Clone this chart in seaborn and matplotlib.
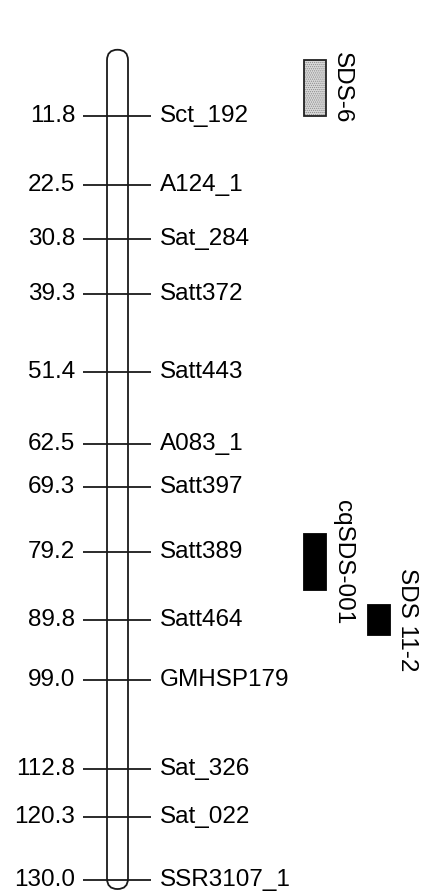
import matplotlib
matplotlib.use("Agg")
import matplotlib.pyplot as plt
from matplotlib.patches import FancyBboxPatch
import seaborn as sns

# ---- data ----
marker_pos = [11.8, 22.5, 30.8, 39.3, 51.4, 62.5, 69.3, 79.2, 89.8, 99.0, 112.8, 120.3, 130.0]
marker_names = ["Sct_192", "A124_1", "Sat_284", "Satt372", "Satt443", "A083_1", "Satt397",
                "Satt389", "Satt464", "GMHSP179", "Sat_326", "Sat_022", "SSR3107_1"]
chrom_start, chrom_end = 1.6, 131.4
qtl_names = ["SDS-6", "cqSDS-001", "SDS 11-2"]
qtl_start = [3.2, 76.5, 87.5]
qtl_end = [11.8, 85.2, 92.1]

sns.set_theme(style="white")
plt.rcParams["font.family"] = ["Liberation Sans", "DejaVu Sans"]
plt.rcParams["hatch.linewidth"] = 0.6

W, H = 421, 896
fig = plt.figure(figsize=(W / 100, H / 100), dpi=100)
ax = fig.add_axes([0, 0, 1, 1])
px_per_cm = 6.466
y0 = 39.4  # pixel row of 0 cM
ax.set_xlim(0, W)
ax.set_ylim((H - y0) / px_per_cm, -y0 / px_per_cm)
ax.axis("off")

lw = 1.3
fs = 17.5

# chromosome
cx0, cw = 107, 21
chrom = FancyBboxPatch((cx0, chrom_start), cw, chrom_end - chrom_start,
                       boxstyle=f"round,pad=0,rounding_size={cw / 2}",
                       mutation_aspect=1 / px_per_cm,
                       fc="white", ec="#1a1a1a", lw=lw, zorder=2)
ax.add_patch(chrom)

# marker ticks and labels
ax.hlines(marker_pos, 83, 151, color="#1a1a1a", lw=lw, zorder=3)
for p, n in zip(marker_pos, marker_names):
    ax.text(75, p, f"{p:.1f}", ha="right", va="center", fontsize=fs, color="black")
    ax.text(160, p, n, ha="left", va="center", fontsize=fs, color="black")

# QTL bars
qx = [315, 315, 379]
lx = [342, 343, 407]
for i, (n, s, e) in enumerate(zip(qtl_names, qtl_start, qtl_end)):
    if i == 0:
        ax.bar(qx[i], e - s, bottom=s, width=21.5, color="#dadada", edgecolor="#8a8a8a",
               lw=0, hatch="........", zorder=3)
        ax.bar(qx[i], e - s, bottom=s, width=21.5, color="none", edgecolor="#222222",
               lw=lw, zorder=4)
    else:
        ax.bar(qx[i], e - s, bottom=s, width=21.5, color="black", edgecolor="black",
               lw=lw, zorder=3)
    ax.text(lx[i], (s + e) / 2, n, rotation=270, ha="center", va="center",
            fontsize=fs, color="black")

fig.savefig("out.png", dpi=100, facecolor="white")
